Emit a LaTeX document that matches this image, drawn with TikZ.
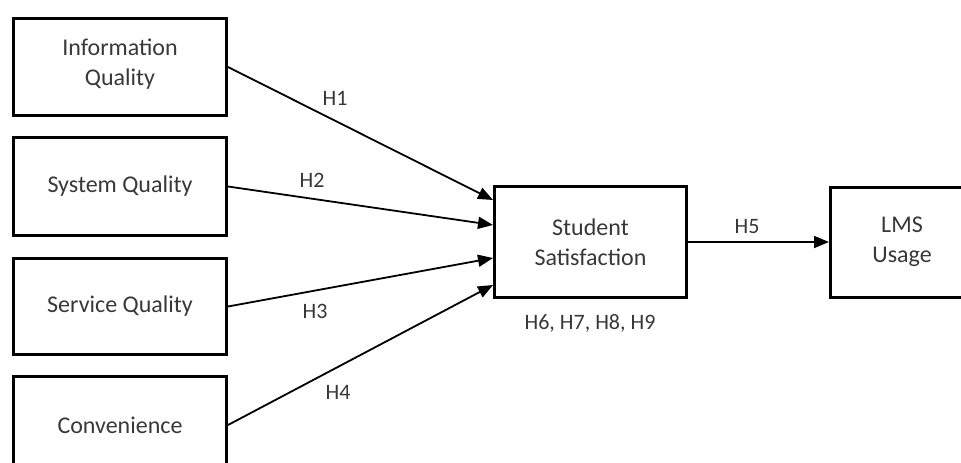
\documentclass[tikz,border=0pt]{standalone}
\usepackage{fontspec}
\setmainfont{Carlito}
\usetikzlibrary{arrows.meta}
\begin{document}
\begin{tikzpicture}[x=1pt,y=-1pt,
  box/.style={draw=black,line width=3pt,rectangle,inner sep=0pt,align=center,
    text=black!78,font=\fontsize{24}{30}\selectfont},
  conn/.style={line width=1.8pt,-{Triangle[length=15pt,width=12pt]}},
  lbl/.style={text=black!78,font=\fontsize{22}{24}\selectfont,inner sep=0pt}]
\useasboundingbox (0,0) rectangle (961,463);
\clip (0,0) rectangle (961,463);
\node[box,minimum width=213pt,minimum height=97pt] (iq) at (120,67) {Information\\Quality\\[-20pt]};
\node[box,minimum width=213pt,minimum height=98pt] (sq) at (120,186.5) {System Quality};
\node[box,minimum width=213pt,minimum height=96pt] (svq) at (120,306.5) {Service Quality};
\node[box,minimum width=213pt,minimum height=97pt] (cv) at (120,425) {Convenience};
\node[box,minimum width=192pt,minimum height=111pt] (ss) at (590.5,242) {Student\\Satisfaction};
\node[box,minimum width=143pt,minimum height=110pt] (lms) at (902,242) {LMS\\Usage};
\draw[conn] (iq.east) -- ([yshift=42pt]ss.west);
\draw[conn] (sq.east) -- ([yshift=17pt]ss.west);
\draw[conn] (svq.east) -- ([yshift=-16pt]ss.west);
\draw[conn] (cv.east) -- ([yshift=-43pt]ss.west);
\draw[conn] (ss.east) -- (lms.west);
\node[lbl] (h1) at (335,98) {H1};
\node[lbl] (h2) at (312,180) {H2};
\node[lbl] (h3) at (315,311) {H3};
\node[lbl] (h4) at (338,392) {H4};
\node[lbl] (h5) at (747,227) {H5};
\node[lbl] (h6) at (590,323) {H6, H7, H8, H9};
\end{tikzpicture}
\end{document}
